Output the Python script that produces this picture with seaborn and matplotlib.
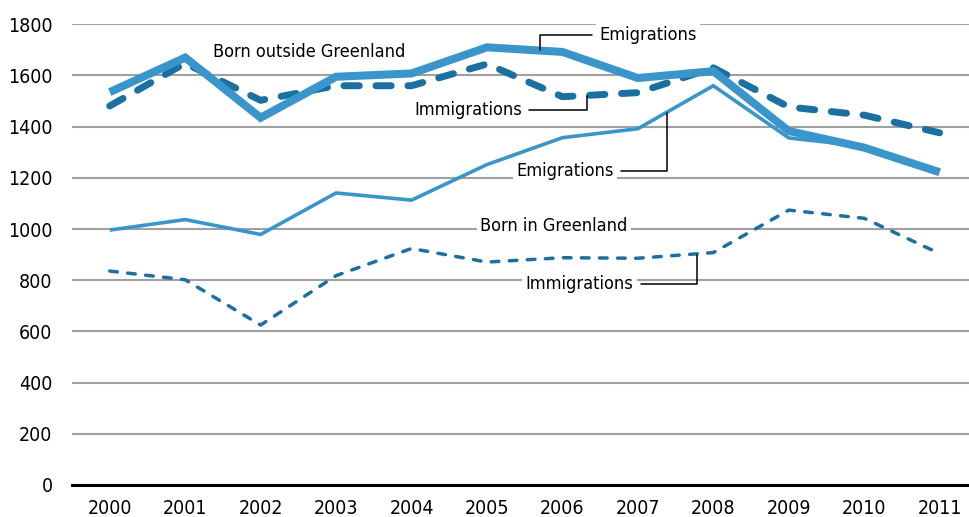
import matplotlib
matplotlib.use("Agg")
import matplotlib.pyplot as plt
import seaborn as sns
import pandas as pd
import numpy as np

years = ["2000", "2001", "2002", "2003", "2004", "2005", "2006", "2007", "2008", "2009", "2010", "2011"]
outside_emig = [1535, 1670, 1435, 1595, 1608, 1710, 1692, 1590, 1617, 1383, 1318, 1222]
outside_immig = [1481, 1648, 1503, 1560, 1560, 1645, 1517, 1533, 1630, 1477, 1445, 1376]
inside_emig = [996, 1037, 979, 1141, 1113, 1252, 1357, 1392, 1560, 1356, 1323, 1226]
inside_immig = [836, 802, 625, 818, 924, 871, 888, 886, 908, 1074, 1042, 904]

light = "#3A96CA"
dark = "#1A70A0"

sns.set_theme(style="white")
plt.rcParams['font.family'] = ['DejaVu Sans']
plt.rcParams['font.stretch'] = 'condensed'
plt.rcParams['text.color'] = 'black'

fig = plt.figure(figsize=(9.69, 5.17), dpi=100)
ax = fig.add_axes([72 / 969, 1 - 485 / 517, 1 - 72 / 969, (485 - 24.3) / 517])

x = np.arange(len(years))
df = pd.DataFrame({"x": x, "oe": outside_emig, "oi": outside_immig,
                   "ie": inside_emig, "ii": inside_immig})

sns.lineplot(data=df, x="x", y="ii", ax=ax, color=dark, lw=2.5, zorder=3)
ax.lines[-1].set(dashes=(2.2, 3.0), dash_capstyle="round")
sns.lineplot(data=df, x="x", y="ie", ax=ax, color=light, lw=2.6, zorder=3)
sns.lineplot(data=df, x="x", y="oi", ax=ax, color=dark, lw=5.0, zorder=4)
ax.lines[-1].set(dashes=(2.2, 2.4), dash_capstyle="round")
sns.lineplot(data=df, x="x", y="oe", ax=ax, color=light, lw=5.8, zorder=5)
for ln in ax.lines:
    ln.set_solid_capstyle("butt")
    ln.set_solid_joinstyle("miter")

ax.set_xlim(-0.5, -0.5 + 897 / 75.45)
ax.set_ylim(0, 1800)
ax.set_yticks(np.arange(0, 1801, 200))
ax.set_xticks(x)
ax.set_xticklabels(years)
ax.set_xlabel("")
ax.set_ylabel("")
ax.grid(axis="y", color="#A0A0A0", lw=1.5)
ax.set_axisbelow(True)
for s in ["left", "right", "top"]:
    ax.spines[s].set_visible(False)
ax.spines["bottom"].set_color("black")
ax.spines["bottom"].set_linewidth(2.2)
ax.spines["bottom"].set_zorder(6)
ax.tick_params(axis="y", length=0, pad=14, labelsize=14, labelcolor="black")
ax.tick_params(axis="x", length=0, pad=10, labelsize=14, labelcolor="black")

fs = 13
box = dict(boxstyle="square,pad=0.18", fc="white", ec="none")
arrow = dict(arrowstyle="-", color="black", lw=1.1, shrinkA=3, shrinkB=0,
             connectionstyle="angle,angleA=0,angleB=90,rad=0")

ax.text(2.65, 1692, "Born outside Greenland", ha="center", va="center", fontsize=fs, zorder=7)
ax.text(5.89, 1012, "Born in Greenland", ha="center", va="center", fontsize=fs, bbox=box, zorder=7)

ax.annotate("Emigrations", xy=(5.70, 1700), xytext=(6.49, 1757), ha="left", va="center",
            fontsize=fs, bbox=box, zorder=7, arrowprops=dict(arrow, relpos=(0, 0.5)))
ax.annotate("Immigrations", xy=(6.32, 1518), xytext=(5.46, 1465), ha="right", va="center",
            fontsize=fs, bbox=box, zorder=7, arrowprops=dict(arrow, relpos=(1, 0.5)))
ax.annotate("Emigrations", xy=(7.38, 1453), xytext=(6.68, 1227), ha="right", va="center",
            fontsize=fs, bbox=box, zorder=7, arrowprops=dict(arrow, relpos=(1, 0.5)))
ax.annotate("Immigrations", xy=(7.79, 899), xytext=(6.94, 785), ha="right", va="center",
            fontsize=fs, bbox=box, zorder=7, arrowprops=dict(arrow, relpos=(1, 0.5)))

fig.savefig("out.png", dpi=100)
